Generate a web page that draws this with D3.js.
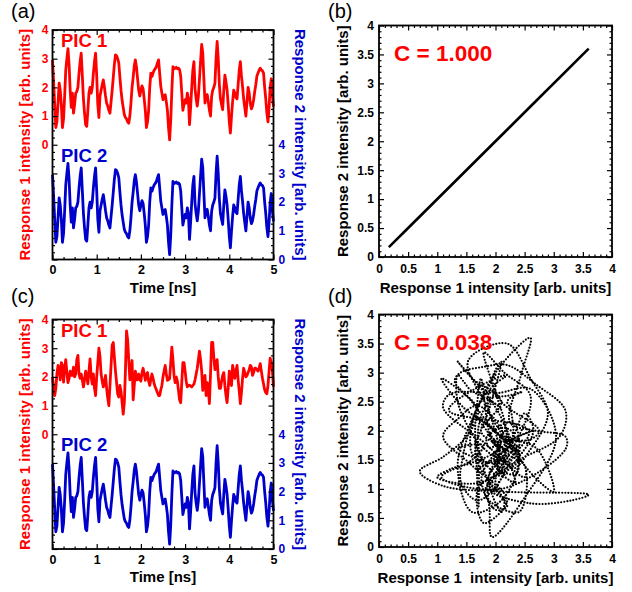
<!DOCTYPE html>
<html lang="en">
<head>
<meta charset="UTF-8">
<title>PIC responses</title>
<script src="https://d3js.org/d3.v7.min.js"></script>
<style>
  body { margin: 0; background: #fff; }
  svg { display: block; font-family: "Liberation Sans", Arial, sans-serif; }
</style>
</head>
<body>
<svg id="fig" width="632" height="592"></svg>
<script>
// sampling step of the traces, ns
const dt = 0.025;

// PIC 2 output (also PIC 1 in the synchronized case (a))
const picSync = [
  2.96, 2.2, 1.4, 0.6, 0.8, 1.45, 2.15, 1.9, 1.4, 0.6,
  0.9, 1.7, 2.6, 3.0, 3.35, 2.8, 1.9, 1.3, 1.8, 1.1,
  1.4, 1.8, 1.85, 2.0, 2.5, 2.9, 3.19, 2.4, 1.6, 1.1,
  0.7, 0.64, 1.2, 1.8, 2.0, 1.8, 2.0, 2.5, 2.9, 3.19,
  2.4, 1.4, 0.95, 1.7, 1.9, 2.1, 2.26, 2.0, 1.7, 1.45,
  1.35, 1.2, 1.1, 1.5, 1.9, 2.35, 2.8, 3.13, 3.1, 3.0,
  2.85, 2.35, 1.9, 1.55, 1.3, 1.05, 0.95, 0.9, 0.8, 0.75,
  1.0, 1.45, 2.0, 2.35, 2.75, 2.96, 2.7, 2.3, 1.9, 1.7,
  1.9, 2.05, 1.95, 1.6, 1.2, 0.6, 0.8, 1.2, 2.0, 2.5,
  2.38, 2.5, 2.6, 2.65, 2.72, 2.85, 2.96, 2.5, 2.03, 1.8,
  1.57, 1.7, 1.74, 1.5, 1.2, 0.6, 0.17, 0.85, 1.9, 2.72,
  2.65, 2.67, 2.7, 2.65, 2.67, 2.62, 2.4, 1.8, 1.2, 1.4,
  1.57, 1.45, 1.8, 1.6, 0.7, 1.3, 2.0, 2.6, 2.9, 1.95,
  1.6, 1.35, 1.68, 2.3, 2.9, 3.5, 3.2, 2.3, 1.45, 1.7,
  1.75, 1.5, 1.2, 1.0, 1.68, 1.9, 2.0, 2.14, 3.0, 3.6,
  3.0, 2.1, 1.6, 1.4, 1.22, 1.9, 2.43, 2.2, 1.9, 1.4,
  0.8, 0.41, 1.0, 1.5, 1.9, 1.8, 1.65, 1.6, 2.1, 2.6,
  2.9, 2.4, 2.03, 1.6, 1.3, 1.0, 1.5, 2.0, 1.8, 1.45,
  1.25, 1.35, 1.57, 1.85, 2.1, 2.4, 2.5, 2.6, 2.67, 2.6,
  2.58, 2.5, 2.0, 1.6, 1.1, 0.8, 1.3, 2.0, 2.3, 1.7,
  1.33
];

// PIC 1 output in the unsynchronized case (c)
const picUnsync = [
  2.0, 1.6, 1.35, 1.6, 2.1, 2.4, 2.3, 1.9, 2.5, 2.4,
  1.82, 2.3, 2.6, 2.15, 1.8, 1.95, 2.2, 2.05, 2.05, 2.34,
  2.0, 2.1, 2.6, 2.75, 2.1, 1.95, 2.1, 1.9, 1.65, 1.9,
  2.2, 2.0, 1.76, 2.2, 2.63, 2.0, 1.75, 2.1, 1.6, 1.35,
  2.0, 2.5, 3.0, 2.7, 2.1, 1.85, 1.65, 1.85, 2.05, 1.6,
  1.25, 1.0, 1.7, 2.4, 3.1, 3.2, 2.69, 2.2, 1.8, 1.4,
  1.3, 1.7, 1.5, 1.1, 0.7, 1.1, 2.2, 3.6, 3.3, 2.6,
  1.9, 2.2, 2.57, 1.2, 1.7, 2.2, 1.9, 1.9, 2.1, 1.9,
  1.85, 2.15, 2.3, 2.1, 1.88, 2.1, 2.15, 1.85, 1.7, 1.9,
  2.1, 1.95, 1.76, 1.65, 1.55, 1.45, 1.35, 1.35, 1.55, 1.7,
  2.0, 2.2, 2.4, 2.1, 1.88, 1.9, 1.94, 2.5, 3.04, 2.6,
  2.05, 1.8, 2.0, 1.85, 1.53, 1.2, 1.1, 1.8, 2.5, 2.5,
  2.2, 1.85, 1.65, 1.7, 1.71, 1.68, 1.65, 1.7, 1.75, 1.9,
  2.1, 2.3, 2.6, 2.9, 2.6, 2.2, 1.53, 1.9, 2.05, 1.35,
  1.8, 1.6, 1.07, 2.1, 3.2, 3.2, 2.69, 2.25, 2.45, 2.6,
  2.0, 1.6, 1.6, 1.85, 2.05, 2.15, 1.7, 1.35, 1.1, 1.6,
  2.2, 1.8, 1.7, 2.4, 2.2, 1.95, 2.2, 2.4, 1.9, 1.5,
  1.07, 1.45, 1.95, 2.3, 2.15, 2.0, 2.05, 2.15, 2.25, 2.4,
  2.35, 2.05, 2.15, 2.3, 2.3, 2.25, 2.2, 2.3, 2.46, 2.2,
  1.95, 1.75, 1.55, 1.45, 1.41, 1.7, 2.2, 2.65, 2.5, 2.2,
  1.65
];

const timeTicks = [0, 1, 2, 3, 4, 5];
const intensityTicks = [0, 1, 2, 3, 4];
const scatterTicks = [0, 0.5, 1, 1.5, 2, 2.5, 3, 3.5, 4];
const corrValues = ["1.000", "0.038"];

const RED = "#ff0000", BLUE = "#0000cc";
const svg = d3.select("#fig");

function steps(lo, hi, step) {
  const n = Math.round((hi - lo) / step);
  return d3.range(n + 1).map(i => +(lo + i * step).toFixed(4));
}

function axis(gen, tr, values, size, fmt, pad, color, fs) {
  const g = svg.append("g").attr("transform", tr)
    .call(gen.tickValues(values).tickSize(size).tickPadding(pad).tickFormat(fmt));
  g.select(".domain").remove();
  g.attr("font-family", null).attr("font-size", fs).attr("font-weight", "bold");
  g.selectAll(".tick line").attr("stroke", "#000").attr("stroke-width", 1.2);
  g.selectAll(".tick text").attr("fill", color);
  return g;
}

function frame(x0, x1, y0, y1) {
  svg.append("rect")
    .attr("x", x0).attr("y", y0).attr("width", x1 - x0).attr("height", y1 - y0)
    .attr("fill", "none").attr("stroke", "#000").attr("stroke-width", 1.8);
}

function text(x, y, s, opts) {
  const t = svg.append("text").attr("x", x).attr("y", y).text(s)
    .attr("font-size", opts.fs).attr("fill", opts.color || "#000")
    .attr("font-weight", opts.bold === false ? "normal" : "bold")
    .attr("text-anchor", opts.anchor || "start")
    .style("white-space", "pre");
  if (opts.rot) t.attr("transform", `rotate(${opts.rot},${x},${y})`);
  return t;
}

// ---- time traces (a) and (c)
function tracePanel(top, bottom, pic1, pic2, letter, letterY) {
  const x = d3.scaleLinear([0, 5], [52.5, 273.5]);
  const yRed = d3.scaleLinear([-4, 4], [bottom, top]);
  const yBlue = d3.scaleLinear([0, 8], [bottom, top]);
  const none = () => "";

  const lineRed = d3.line().x((d, i) => x(i * dt)).y(d => yRed(d));
  const lineBlue = d3.line().x((d, i) => x(i * dt)).y(d => yBlue(d));
  svg.append("path").attr("d", lineRed(pic1)).attr("fill", "none")
    .attr("stroke", RED).attr("stroke-width", 2.8).attr("stroke-linejoin", "round");
  svg.append("path").attr("d", lineBlue(pic2)).attr("fill", "none")
    .attr("stroke", BLUE).attr("stroke-width", 2.8).attr("stroke-linejoin", "round");

  const minorT = steps(0, 5, 0.25).filter(v => v % 1 !== 0);
  axis(d3.axisBottom(x), `translate(0,${bottom})`, timeTicks, -5, d => d, 6, "#000", 12.5);
  axis(d3.axisBottom(x), `translate(0,${bottom})`, minorT, -2.5, none, 0, "#000", 12);
  axis(d3.axisTop(x), `translate(0,${top})`, timeTicks, -5, none, 0, "#000", 12);
  axis(d3.axisTop(x), `translate(0,${top})`, minorT, -2.5, none, 0, "#000", 12);

  const minorY = steps(-4, 4, 0.25).filter(v => v % 1 !== 0);
  axis(d3.axisLeft(yRed), `translate(52.5,0)`, steps(-4, 4, 1), -5,
    d => intensityTicks.includes(d) ? d : "", 4, RED, 12);
  axis(d3.axisLeft(yRed), `translate(52.5,0)`, minorY, -2.5, none, 0, RED, 12);
  axis(d3.axisRight(yBlue), `translate(273.5,0)`, steps(0, 8, 1), -5,
    d => intensityTicks.includes(d) ? d : "", 5, BLUE, 12);
  axis(d3.axisRight(yBlue), `translate(273.5,0)`, steps(0, 8, 0.25).filter(v => v % 1 !== 0),
    -2.5, none, 0, BLUE, 12);

  frame(52.5, 273.5, top, bottom);

  const mid = (top + bottom) / 2;
  text(30, mid, "Response 1 intensity [arb. units]", { fs: 15, color: RED, anchor: "middle", rot: -90 });
  text(295, mid, "Response 2 intensity [arb. units]", { fs: 15, color: BLUE, anchor: "middle", rot: 90 });
  text(163, bottom + 33, "Time [ns]", { fs: 15, anchor: "middle" });
  text(61, top + 17, "PIC 1", { fs: 18.5, color: RED });
  text(61, yBlue(4) + 17, "PIC 2", { fs: 18.5, color: BLUE });
  text(11, letterY, letter, { fs: 20, bold: false });
}

// ---- correlation plots (b) and (d)
function scatterPanel(top, bottom, xs, ys, corr, letter, letterY, xTitle, dotted) {
  const x = d3.scaleLinear([0, 4], [379, 612]);
  const y = d3.scaleLinear([0, 4], [bottom, top]);
  const none = () => "";
  const pts = xs.map((v, i) => [v, ys[i]]);

  if (dotted) {
    const line = d3.line().x(d => x(d[0])).y(d => y(d[1])).curve(d3.curveCatmullRom);
    svg.append("path").attr("d", line(pts)).attr("fill", "none")
      .attr("stroke", "#000").attr("stroke-width", 2.2).attr("stroke-linecap", "round")
      .attr("stroke-dasharray", "0 3.1");
  } else {
    const line = d3.line().x(d => x(d[0])).y(d => y(d[1]));
    svg.append("path").attr("d", line(pts)).attr("fill", "none")
      .attr("stroke", "#000").attr("stroke-width", 2.6).attr("stroke-linecap", "round");
  }

  const minor = steps(0, 4, 0.1).filter(v => Math.abs(v * 2 - Math.round(v * 2)) > 1e-6);
  axis(d3.axisBottom(x), `translate(0,${bottom})`, scatterTicks, -5, d => d, 7, "#000", 12);
  axis(d3.axisBottom(x), `translate(0,${bottom})`, minor, -2.5, none, 0, "#000", 12);
  axis(d3.axisTop(x), `translate(0,${top})`, scatterTicks, -5, none, 0, "#000", 12);
  axis(d3.axisTop(x), `translate(0,${top})`, minor, -2.5, none, 0, "#000", 12);
  axis(d3.axisLeft(y), `translate(379,0)`, scatterTicks, -5, d => d, 5, "#000", 12);
  axis(d3.axisLeft(y), `translate(379,0)`, minor, -2.5, none, 0, "#000", 12);
  axis(d3.axisRight(y), `translate(612,0)`, scatterTicks, -5, none, 0, "#000", 12);
  axis(d3.axisRight(y), `translate(612,0)`, minor, -2.5, none, 0, "#000", 12);

  frame(379, 612, top, bottom);

  text(348, (top + bottom) / 2, "Response 2 intensity [arb. units]", { fs: 15, anchor: "middle", rot: -90 });
  text(495.5, bottom + 36, xTitle, { fs: 15, anchor: "middle" });
  text(394, top + 35, "C = " + corr, { fs: 22.5, color: RED });
  text(328, letterY, letter, { fs: 20, bold: false });
}

tracePanel(30, 259.5, picSync, picSync, "(a)", 18);
tracePanel(319.5, 549, picUnsync, picSync, "(c)", 303);
scatterPanel(25.5, 257, picSync, picSync, corrValues[0], "(b)", 18,
  "Response 1 intensity [arb. units]", false);
scatterPanel(314.5, 547, picUnsync, picSync, corrValues[1], "(d)", 303,
  "Response 1  intensity [arb. units]", true);
</script>
</body>
</html>
